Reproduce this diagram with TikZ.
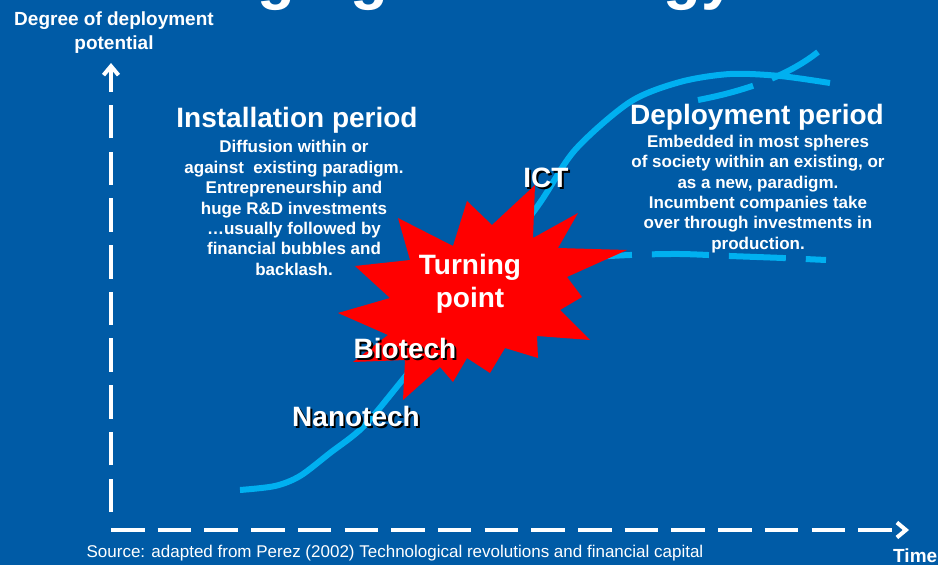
\documentclass[tikz,border=0pt]{standalone}
\usepackage{fontspec}
\setmainfont{Liberation Sans}
\usetikzlibrary{arrows.meta,positioning}
\definecolor{slideblue}{RGB}{0,91,166}
\definecolor{curveblue}{RGB}{0,176,240}
\definecolor{burstred}{RGB}{255,0,0}
\tikzset{
  axisline/.style={draw=white,line width=4pt,dash pattern=on 33.5pt off 13.2pt,
                   -{Straight Barb[length=9pt,width=15pt]}},
  scurve/.style={draw=curveblue,line width=6pt},
  dcurve/.style={draw=curveblue,line width=6pt,dash pattern=on 57pt off 20pt},
  burst/.style={fill=burstred},
  slidetitle/.style={text=white,font=\bfseries\fontsize{62}{70}\selectfont,inner sep=0pt},
  axislabel/.style={text=white,font=\bfseries\fontsize{19}{24}\selectfont,align=center,inner sep=0pt},
  period/.style={text=white,font=\bfseries\fontsize{28}{33}\selectfont,inner sep=0pt},
  body/.style={text=white,font=\bfseries\fontsize{17}{20.4}\selectfont,align=center,inner sep=0pt},
  tech/.style={text=white,font=\bfseries\fontsize{28}{33}\selectfont,align=center,inner sep=0pt},
  techshadow/.style={tech,text=black,xshift=2pt,yshift=-2pt},
  source/.style={text=white,font=\fontsize{17}{20}\selectfont,inner sep=0pt},
}
\begin{document}
\begin{tikzpicture}[x=1pt,y=-1pt]
  \useasboundingbox (0,0) rectangle (938,565);
  \fill[slideblue] (0,0) rectangle (938,565);

  \begin{scope}
    \clip (0,0) rectangle (938,565);
    \node[slidetitle,anchor=base west] (title) at (102,-3) {Emerging technology};
  \end{scope}

  \coordinate (ybot) at (111,512);
  \coordinate (ytop) at (111,63);
  \coordinate (xleft) at (111,530);
  \coordinate (xright) at (909,530);
  \draw[axisline] (ybot) -- (ytop);
  \draw[axisline] (xleft) -- (xright);

  \node[axislabel] (ylab) at (114,33) {Degree of deployment\\potential};
  \node[axislabel,anchor=west] (xlab) at (893,556) {Time};
  \node[source] (src) at (395,553) {Source: adapted from Perez (2002) Technological revolutions and financial capital};

  \draw[scurve] plot[smooth] coordinates {(240,490) (275,486) (300,476) (330,453) (363,427)
    (400,383) (470,295) (537,207) (575,150) (630,102) (680,82) (730,74) (780,76) (830,83)};
  \draw[dcurve] plot[smooth] coordinates {(575,258) (630,255) (680,254) (730,256) (783,258) (826,260)};
  \draw[dcurve] (698,100) .. controls (740,92) and (785,78) .. (818,52);

  \fill[burst] (398,218) -- (453,246) -- (467,201) -- (492,225) -- (535,185) -- (533,238)
    -- (578,213) -- (558,248) -- (627,250) -- (567,277) -- (582,297) -- (560,310)
    -- (590,340) -- (537,336) -- (538,358) -- (505,348) -- (490,373) -- (467,358)
    -- (453,382) -- (440,367) -- (403,400) -- (405,360) -- (353,362) -- (388,335)
    -- (338,313) -- (390,298) -- (355,266) -- (410,260) -- cycle;

  \node[period] (inst) at (297,120) {Installation period};
  \node[body] (instbody) at (294,208) {Diffusion within or\\against\ \ existing paradigm.\\Entrepreneurship and\\huge R\&D investments\\\dots usually followed by\\financial bubbles and\\backlash.};
  \node[period] (depl) at (757,117) {Deployment period};
  \node[body] (deplbody) at (758,194) {Embedded in most spheres\\of society within an existing, or\\as a new, paradigm.\\Incumbent companies take\\over through investments in\\production.};

  \node[tech] (turn) at (470,284) {Turning\\point};
  \node[techshadow] (ict-s) at (546,178) {ICT};
  \node[tech] (ict) at (546,178) {ICT};
  \node[techshadow] (bio-s) at (405,348) {Biotech};
  \node[tech] (bio) at (405,348) {Biotech};
  \node[techshadow] (nano-s) at (356,416) {Nanotech};
  \node[tech] (nano) at (356,416) {Nanotech};
\end{tikzpicture}
\end{document}
